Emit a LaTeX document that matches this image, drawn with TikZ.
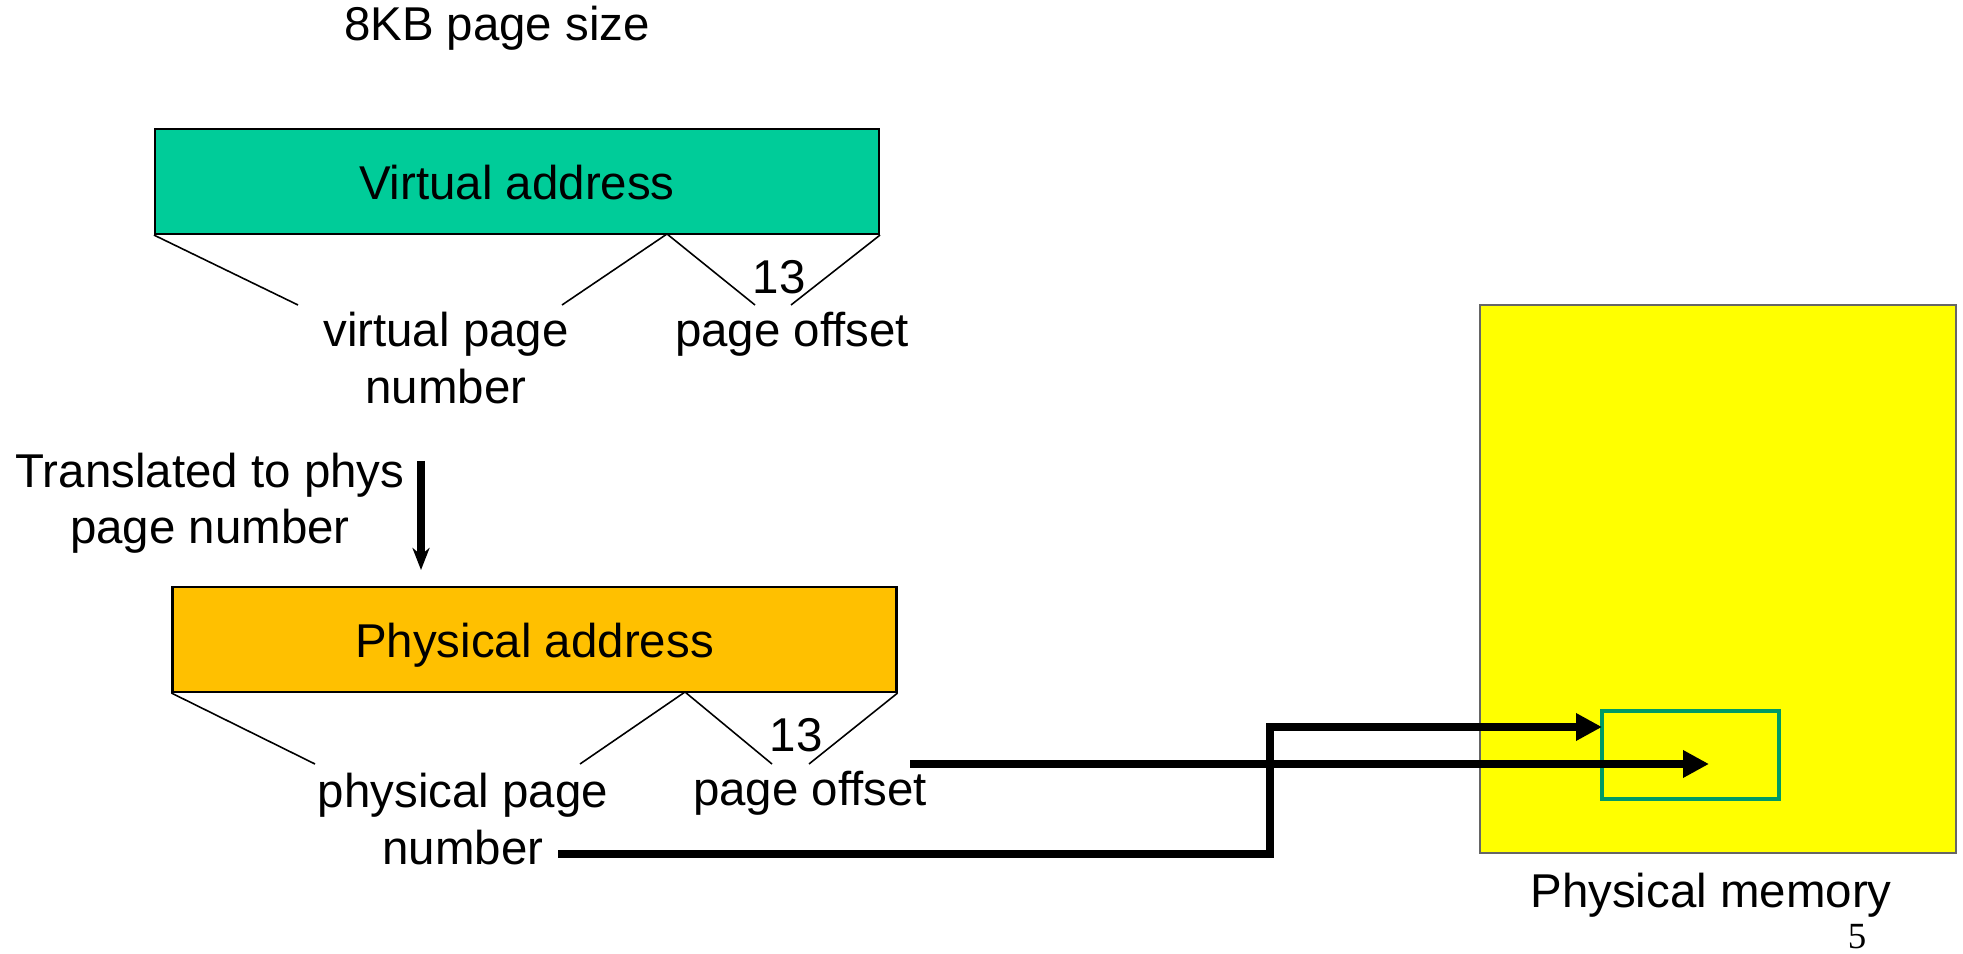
\documentclass[tikz,border=0pt]{standalone}
\usepackage{fontspec}
\setmainfont{Liberation Sans}
\newfontfamily\pagenumfont{Liberation Serif}
\usetikzlibrary{arrows.meta}
\definecolor{vgreen}{HTML}{00CC99}
\definecolor{porange}{HTML}{FFC000}
\definecolor{memyellow}{HTML}{FFFF00}
\definecolor{framegreen}{HTML}{009966}
\begin{document}
\begin{tikzpicture}[
    lbl/.style={font=\fontsize{13.5}{16}\selectfont, inner sep=0pt, align=center},
    field/.style={draw, line width=0.6pt, minimum width=7.24cm, minimum height=1.05cm, lbl, text height=0.36cm, text depth=0pt},
    split/.style={line width=0.45pt},
    bus/.style={line width=2.2pt, -{Triangle[length=0.26cm, width=0.26cm]}},
    >={Stealth[length=0.22cm, width=0.17cm, inset=0.07cm]}
]
\useasboundingbox (0,0) rectangle (19.63,-9.54);

\node[lbl] (title) at (4.97,-0.28) {8KB page size};

\node[field, fill=vgreen] (vbox) at (5.17,-1.815) {Virtual address};
\node[lbl] (vpn) at (4.46,-3.58) {virtual page\\number};
\node[lbl] (voff) at (7.92,-3.34) {page offset};
\node[lbl] (vbits) at (7.79,-2.77) {13};

\coordinate (vsplit) at (6.67,-2.34);
\coordinate (va) at (2.98,-3.05);
\coordinate (vb) at (5.62,-3.05);
\coordinate (vc) at (7.55,-3.05);
\coordinate (vd) at (7.91,-3.05);
\draw[split] (vbox.south west) -- (va);
\draw[split] (vsplit) -- (vb);
\draw[split] (vsplit) -- (vc);
\draw[split] (vbox.south east) -- (vd);

\node[lbl] (xlate) at (2.10,-5.03) {Translated to phys\\page number};
\coordinate (xtop) at (4.21,-4.61);
\coordinate (xbot) at (4.21,-5.70);
\draw[->, line width=2pt] (xtop) -- (xbot);

\node[field, fill=porange] (pbox) at (5.345,-6.395) {Physical address};
\node[lbl] (ppn) at (4.63,-8.19) {physical page\\number};
\node[lbl] (poff) at (8.10,-7.93) {page offset};
\node[lbl] (pbits) at (7.96,-7.35) {13};

\coordinate (psplit) at (6.85,-6.92);
\coordinate (pa) at (3.15,-7.64);
\coordinate (pb) at (5.80,-7.64);
\coordinate (pc) at (7.72,-7.64);
\coordinate (pd) at (8.09,-7.64);
\draw[split] (pbox.south west) -- (pa);
\draw[split] (psplit) -- (pb);
\draw[split] (psplit) -- (pc);
\draw[split] (pbox.south east) -- (pd);

\node[draw=black!60, line width=0.5pt, fill=memyellow, minimum width=4.76cm, minimum height=5.48cm] (mem) at (17.18,-5.79) {};
\node[draw=framegreen, line width=1.1pt, minimum width=1.77cm, minimum height=0.88cm] (frame) at (16.905,-7.55) {};
\node[lbl] (memlbl) at (17.11,-8.95) {Physical memory};
\node[font=\pagenumfont\fontsize{10.5}{12}\selectfont, inner sep=0pt] (slide) at (18.57,-9.37) {5};

\coordinate (ostart) at (9.10,-7.64);
\coordinate (oend) at (17.09,-7.64);
\draw[bus] (ostart) -- (oend);

\coordinate (nstart) at (5.58,-8.54);
\coordinate (jog) at (12.70,-8.54);
\coordinate (nend) at (16.02,-7.27);
\draw[bus] (nstart) -- (jog) |- (nend);
\end{tikzpicture}
\end{document}
